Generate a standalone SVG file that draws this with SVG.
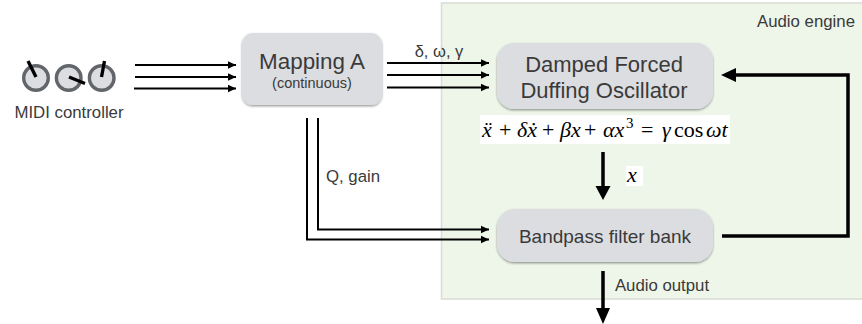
<svg xmlns="http://www.w3.org/2000/svg" width="862" height="324" viewBox="0 0 862 324">
<style>
text{font-family:"Liberation Sans",Arial,sans-serif;fill:#3a3a3a;text-anchor:middle}
.m{font-family:"Liberation Serif","Times New Roman",serif;fill:#000;text-anchor:start;font-size:22px}
.i{font-style:italic}
.box{fill:#dcdde0;filter:url(#sh)}
.l{fill:none;stroke:#000;stroke-width:2}
.t{fill:none;stroke:#000;stroke-width:3.5}
.knob{fill:#dcdde0;stroke:#62666b;stroke-width:3.4}
.ptr{stroke:#000;stroke-width:3.4;stroke-linecap:butt}
</style>
<defs>
<filter id="sh" x="-5%" y="-5%" width="110%" height="115%"><feDropShadow dx="0" dy="1.3" stdDeviation="0.9" flood-color="#000" flood-opacity="0.4"/></filter>
<marker id="a" markerUnits="userSpaceOnUse" markerWidth="9" markerHeight="9" refX="8.5" refY="4.5" orient="auto"><path d="M0 .5L8.5 4.5L0 8.5Z"/></marker>
</defs>
<g id="audio-engine">
<rect x="441.5" y="3" width="425" height="296" fill="#eef6ea" stroke="#d8dcd5" stroke-width="1.5"/>
<text x="806" y="27" font-size="16.800">Audio engine</text>
</g>
<g id="midi-controller">
<circle class="knob" cx="36" cy="78" r="12.300"/><path class="ptr" d="M36 77L28 61"/>
<circle class="knob" cx="68.700" cy="78" r="12.300"/><path class="ptr" d="M69 77L85 83.500"/>
<circle class="knob" cx="101.700" cy="78" r="12.300"/><path class="ptr" d="M101.500 77L104.500 61"/>
<text x="69" y="118" font-size="16.800">MIDI controller</text>
</g>
<g id="mapping-a">
<rect class="box" x="242" y="33" width="140" height="72" rx="11"/>
<text x="312" y="69" font-size="22.400">Mapping A</text>
<text x="312" y="88" font-size="14.500">(continuous)</text>
</g>
<g id="duffing">
<rect class="box" x="497" y="43" width="216" height="66" rx="17"/>
<text x="604" y="72" font-size="22">Damped Forced</text>
<text x="604" y="98" font-size="22">Duffing Oscillator</text>
</g>
<g id="equation">
<rect x="480" y="115" width="250" height="29" fill="#fff"/>
<text class="m i" y="137" x="482">ẍ<tspan class="m" x="499" font-style="normal">+</tspan><tspan x="517">δẋ</tspan><tspan x="542" font-style="normal">+</tspan><tspan x="560">βx</tspan><tspan x="584" font-style="normal">+</tspan><tspan x="603">αx</tspan><tspan x="626" y="128" font-style="normal" font-size="15">3</tspan><tspan x="641" y="137" font-style="normal">=</tspan><tspan x="662">γ</tspan><tspan x="674" font-style="normal">cos</tspan><tspan x="706">ωt</tspan></text>
</g>
<g id="x-label">
<rect x="626" y="166" width="17" height="20" fill="#fff"/>
<text class="m i" x="627" y="182" font-size="26">x</text>
</g>
<g id="filter-bank">
<rect class="box" x="497" y="209" width="216" height="53" rx="18"/>
<text x="605" y="243" font-size="19">Bandpass filter bank</text>
</g>
<g id="connectors">
<path class="l" marker-end="url(#a)" d="M135 65H236"/>
<path class="l" marker-end="url(#a)" d="M135 77H236"/>
<path class="l" marker-end="url(#a)" d="M134 88.500H236"/>
<path class="l" marker-end="url(#a)" d="M387 63H489"/>
<path class="l" marker-end="url(#a)" d="M387 75H489"/>
<path class="l" marker-end="url(#a)" d="M387 87.500H489"/>
<path class="l" marker-end="url(#a)" d="M318 118V229.500H489"/>
<path class="l" marker-end="url(#a)" d="M307 118V239.500H489"/>
<path class="t" d="M722 236H848V75H735"/>
<path d="M721 75L736 68V82Z"/>
<path d="M603 152V188" class="t"/>
<path d="M595.500 186H610.500L603 200Z"/>
<path d="M603 271V310" class="t"/>
<path d="M596 308H610L603 324Z"/>
</g>
<g id="labels">
<text x="439" y="57" font-size="16.500">δ, ω, γ</text>
<text x="353" y="182" font-size="16.800">Q, gain</text>
<text x="662" y="291" font-size="16.800">Audio output</text>
</g>
</svg>
